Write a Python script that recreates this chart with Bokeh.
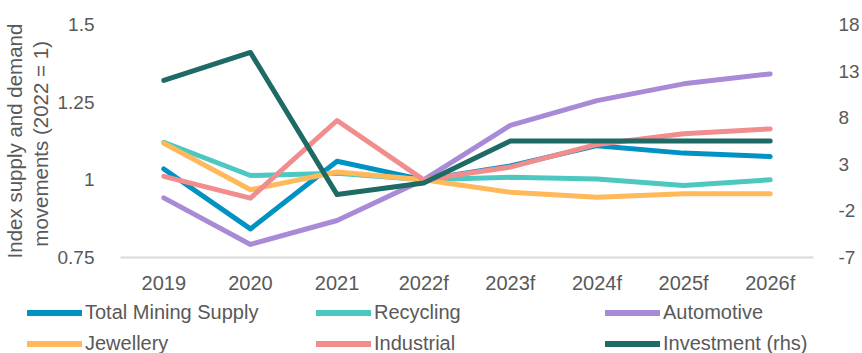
from bokeh.plotting import figure
from bokeh.layouts import column
from bokeh.models import FactorRange, Range1d, LinearAxis, FixedTicker, Legend, LegendItem
from bokeh.embed import file_html
from bokeh.resources import INLINE

years = ["2019", "2020", "2021", "2022f", "2023f", "2024f", "2025f", "2026f"]
total_mining_supply = [1.035, 0.842, 1.06, 1.0, 1.045, 1.11, 1.086, 1.075]
recycling = [1.121, 1.014, 1.021, 1.0, 1.008, 1.003, 0.982, 1.0]
automotive = [0.942, 0.792, 0.869, 1.0, 1.175, 1.255, 1.309, 1.341]
jewellery = [1.118, 0.968, 1.025, 1.0, 0.96, 0.944, 0.955, 0.955]
industrial = [1.011, 0.941, 1.191, 1.0, 1.041, 1.114, 1.148, 1.164]
investment_rhs = [12.0, 15.0, -0.25, 1.0, 5.5, 5.5, 5.5, 5.5]

left_ticks = [0.75, 1.0, 1.25, 1.5]
left_tick_labels = ["0.75", "1", "1.25", "1.5"]
right_ticks = [-7, -2, 3, 8, 13, 18]
right_tick_labels = ["-7", "-2", "3", "8", "13", "18"]

FONT = "Liberation Sans"
GREY = "#595959"

p = figure(width=862, height=302, output_backend="svg", toolbar_location=None,
           x_range=FactorRange(*years, range_padding=0),
           y_range=Range1d(0.75, 1.5),
           min_border_left=112, min_border_right=40, min_border_top=24, min_border_bottom=45)
p.frame_align = False
p.outline_line_color = None
p.background_fill_color = "white"
p.border_fill_color = "white"
p.xgrid.visible = False
p.ygrid.visible = False
p.extra_y_ranges = {"rhs": Range1d(-7, 18)}

# x axis
xa = p.xaxis[0]
xa.axis_line_color = "#D9D9D9"
xa.axis_line_width = 2
xa.major_tick_line_color = None
xa.minor_tick_line_color = None
xa.major_label_text_font = FONT
xa.major_label_text_font_size = "20px"
xa.major_label_text_color = GREY
xa.major_label_standoff = 8

# left axis
ya = p.yaxis[0]
ya.ticker = FixedTicker(ticks=left_ticks)
ya.major_label_overrides = {t: l for t, l in zip(left_ticks, left_tick_labels)}
ya.axis_line_color = None
ya.major_tick_line_color = None
ya.minor_tick_line_color = None
ya.major_label_text_font = FONT
ya.major_label_text_font_size = "19px"
ya.major_label_text_color = GREY
ya.major_label_standoff = 20
ya.axis_label = "Index supply and demand\nmovements  (2022 = 1)"
ya.axis_label_text_font = FONT
ya.axis_label_text_font_size = "20.5px"
ya.axis_label_text_line_height = 1.1
ya.axis_label_text_font_style = "normal"
ya.axis_label_text_color = GREY
ya.axis_label_standoff = 3

# right axis
ra = LinearAxis(y_range_name="rhs", ticker=FixedTicker(ticks=right_ticks))
ra.major_label_overrides = {t: l for t, l in zip(right_ticks, right_tick_labels)}
ra.axis_line_color = None
ra.major_tick_line_color = None
ra.minor_tick_line_color = None
ra.major_label_text_font = FONT
ra.major_label_text_font_size = "19px"
ra.major_label_text_color = GREY
ra.major_label_standoff = 19
p.add_layout(ra, "right")

LW = 5
series = [
    ("Total Mining Supply", total_mining_supply, "#0092C3", "default"),
    ("Recycling", recycling, "#4DC8C0", "default"),
    ("Automotive", automotive, "#A98AD6", "default"),
    ("Jewellery", jewellery, "#FFB95A", "default"),
    ("Industrial", industrial, "#F28D8E", "default"),
    ("Investment (rhs)", investment_rhs, "#1E6A64", "rhs"),
]
for name, vals, color, rng in series:
    p.line(x=years, y=vals, line_color=color, line_width=LW,
           line_join="round", line_cap="round", y_range_name=rng)

# legend strip (separate figure, its lines lie outside its visible range)
lg = figure(width=862, height=51, output_backend="svg", toolbar_location=None,
            x_range=FactorRange(*years), y_range=Range1d(100, 101),
            x_axis_location=None, y_axis_location=None,
            min_border_left=0, min_border_right=0, min_border_top=0, min_border_bottom=0)
lg.frame_align = False
lg.outline_line_color = None
lg.xgrid.visible = False
lg.ygrid.visible = False
lg_r = {}
for name, vals, color, rng in series:
    lg_r[name] = lg.line(x=years, y=vals, line_color=color, line_width=LW + 1, line_cap="round")

order = ["Total Mining Supply", "Jewellery", "Recycling", "Industrial",
         "Automotive", "Investment (rhs)"]
legend = Legend(items=[LegendItem(label=n, renderers=[lg_r[n]]) for n in order],
                location=(27, -1.5), orientation="vertical", nrows=2,
                glyph_width=55, glyph_height=23, label_height=23, label_width=223,
                label_standoff=3, spacing=8, padding=0, margin=0,
                border_line_color=None, background_fill_alpha=0,
                label_text_font=FONT, label_text_font_size="20px",
                label_text_color=GREY)
lg.add_layout(legend, "center")

open("out.html", "w").write(file_html(column(p, lg, spacing=0), INLINE))
